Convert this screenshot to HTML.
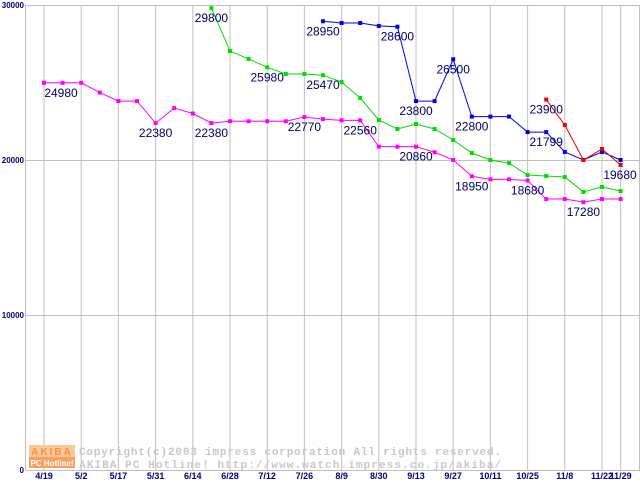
<!DOCTYPE html>
<html><head><meta charset="utf-8"><style>
body{margin:0;background:#fff;width:640px;height:480px;overflow:hidden}
svg text{font-family:"Liberation Sans",sans-serif}
</style></head><body>
<svg id="chart" width="640" height="480" viewBox="0 0 640 480" xmlns="http://www.w3.org/2000/svg">
<g id="grid"></g>
<g id="wm">
<rect x="29" y="445" width="46" height="12" fill="#fcc89a"/>
<rect x="29" y="457" width="46" height="11" fill="#f8a060"/>
<text x="52" y="455" font-size="10" font-weight="bold" fill="#f59040" text-anchor="middle" letter-spacing="2">AKIBA</text>
<text x="52" y="466" font-size="8" font-weight="bold" fill="#fff" text-anchor="middle">PC Hotline!</text>
<text x="79" y="455" font-size="11" font-weight="bold" fill="#c8c8c8" style="font-family:'Liberation Mono',monospace" textLength="422">Copyright(c)2003 impress corporation All rights reserved.</text>
<text x="79" y="468" font-size="11" font-weight="bold" fill="#c8c8c8" style="font-family:'Liberation Mono',monospace" textLength="422">AKIBA PC Hotline!  http://www.watch.impress.co.jp/akiba/</text>
</g>
<g id="series"></g>
<g id="labels"></g>
</svg>
<script>
const xTicks=["4/19","5/2","5/17","5/31","6/14","6/28","7/12","7/26","8/9","8/30","9/13","9/27","10/11","10/25","11/8","11/22","11/29"];
const xTickIdx=[0,2,4,6,8,10,12,14,16,18,20,22,24,26,28,30,31];
const yTicks=[0,10000,20000,30000];
const magenta=[24980,24980,24980,24350,23800,23800,22380,23350,23000,22380,22500,22500,22500,22500,22770,22640,22560,22560,20860,20860,20860,20500,20000,18950,18750,18750,18680,17480,17480,17280,17480,17480];
const green=[null,null,null,null,null,null,null,null,null,29800,27030,26520,25980,25550,25550,25470,25030,24000,22580,22000,22320,22000,21290,20450,20000,19800,19030,18970,18900,17940,18260,18000];
const blue=[null,null,null,null,null,null,null,null,null,null,null,null,null,null,null,28950,28840,28840,28650,28600,23800,23800,26500,22800,22800,22800,21800,21799,20520,20000,20520,20000];
const red=[null,null,null,null,null,null,null,null,null,null,null,null,null,null,null,null,null,null,null,null,null,null,null,null,null,null,null,23900,22260,20000,20710,19680];
const seriesColors=["#ff00ff","#00dd00","#0000ee","#ee0000"];
const labelIdx=[[0,6,9,14,17,20,23,26,29],[9,12,15],[15,19,20,22,23,27],[27,31]];
const ns="http://www.w3.org/2000/svg";
const X=i=>44+i*18.6;
const Y=v=>470-v/30000*465;
function mk(t,a,p){const e=document.createElementNS(ns,t);for(const k in a)e.setAttribute(k,a[k]);p.appendChild(e);return e;}
const grid=document.getElementById('grid');
xTickIdx.forEach((i,k)=>{
 const l=mk('line',{x1:X(i),x2:X(i),y1:5,y2:470,stroke:'#c0c0c0','stroke-width':1},grid);
 
 
 const t=mk('text',{x:X(i),y:479,'font-size':9,'text-anchor':'middle',fill:'#000080','font-weight':'bold'},grid);
 t.textContent=xTicks[k];
 
 
});
const ax=mk('line',{x1:25.5,x2:25.5,y1:5,y2:470,stroke:'#c0c0c0'},grid);


const rl=mk('line',{x1:639.5,x2:639.5,y1:5,y2:470,stroke:'#c0c0c0'},grid);


yTicks.forEach(v=>{
 const l=mk('line',{x1:25,x2:640,y1:Y(v)+0.5,y2:Y(v)+0.5,stroke:'#c0c0c0'},grid);
 
 
 const t=mk('text',{x:24,y:Y(v)+3,'font-size':8,'text-anchor':'end',fill:'#000080','font-weight':'bold'},grid);
 t.textContent=v;
 
 
});
const sg=document.getElementById('series'),lg=document.getElementById('labels');
[magenta,green,blue,red].forEach((s,si)=>{
 const c=seriesColors[si];let pts=[];
 s.forEach((v,i)=>{if(v!==null)pts.push(X(i)+','+Y(v));});
 const pl=mk('polyline',{points:pts.join(' '),fill:'none',stroke:c,'stroke-width':1},sg);
 
 
 s.forEach((v,i)=>{if(v===null)return;
  const r=mk('rect',{x:X(i)-2,y:Y(v)-2,width:4,height:4,fill:c},sg);
  
  
 });
 labelIdx[si].forEach(i=>{
  const v=s[i];let x=X(i);if(x<61)x=61;if(x>620)x=620;
  const t=mk('text',{x:x,y:Y(v)+14,'font-size':12,'text-anchor':'middle',fill:'#000066'},lg);
  t.textContent=v;
  
  
 });
});
</script>
</body></html>
